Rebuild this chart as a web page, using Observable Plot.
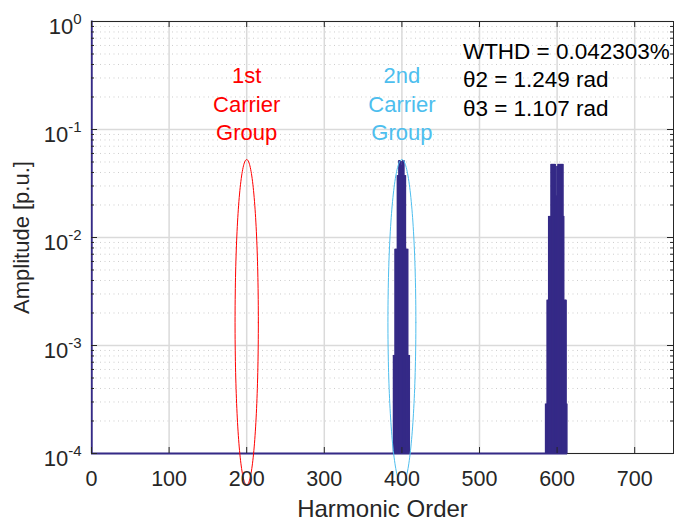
<!DOCTYPE html>
<html><head><meta charset="utf-8">
<script src="https://cdn.jsdelivr.net/npm/d3@7"></script>
<script src="https://cdn.jsdelivr.net/npm/@observablehq/plot@0.6"></script>
<style>body{margin:0;background:#fff;}</style>
</head><body><div id="chart"></div>
<script>
// ---- data ----
const fundamentalHarmonic = [1];
const fundamentalAmp = [1.0];
const group2Harmonics = [390,391,392,393,394,395,396,397,398,399,400,401,402,403,404,405,406,407,408,409,410];
const group2Amps = [8e-4,8e-4,7.7e-3,7.7e-3,7.7e-3,0.037,0.037,0.051,0.051,0.05,0.046,0.05,0.051,0.051,0.037,0.037,7.7e-3,7.7e-3,7.7e-3,8e-4,8e-4];
const group3Harmonics = [586,587,588,589,590,591,592,593,594,595,596,597,598,599,600,601,602,603,604,605,606,607,608,609,610,611,612,613];
const group3Amps = [2.84e-4,2.84e-4,2.6e-3,2.6e-3,0.0155,0.0155,0.0155,0.047,0.047,0.047,0.047,0.047,0.047,0.045,0.024,0.045,0.047,0.047,0.047,0.047,0.047,0.047,0.047,0.0155,2.6e-3,2.6e-3,2.6e-3,2.84e-4];
const xTicks = [0,100,200,300,400,500,600,700];
const yTickExps = [-4,-3,-2,-1,0];
const carrierCenters = [200, 400];
const carrierLabels = ["1st\nCarrier\nGroup", "2nd\nCarrier\nGroup"];
const carrierColors = ["#ff0000", "#4dbeee"];
const ellipseHalfWidths = [15, 18];
const ellipseExpRange = [-4.292, -1.278];
const statsLines = ["WTHD = 0.042303%", "θ2 = 1.249 rad", "θ3 = 1.107 rad"];

// ---- build tables ----
const bars = [
  ...fundamentalHarmonic.map((n,i)=>({n, a: fundamentalAmp[i]})),
  ...group2Harmonics.map((n,i)=>({n, a: group2Amps[i]})),
  ...group3Harmonics.map((n,i)=>({n, a: group3Amps[i]}))
];
const maxHarmonic = d3.max(bars, d => d.n) + 0.5;
const yMajor = yTickExps.map(e => 10 ** e);
const yMinor = yTickExps.slice(0, -1).flatMap(e => d3.range(2, 10).map(m => m * 10 ** e));

const W = 674, H = 523, mL = 91, mR = 1, mT = 21, mB = 70;
const innerW = W - mL - mR, innerH = H - mT - mB;
const navy = "#352a87", axisC = "#262626";

const ellipses = carrierCenters.map((c, k) => {
  const mid = (ellipseExpRange[0] + ellipseExpRange[1]) / 2;
  const half = (ellipseExpRange[1] - ellipseExpRange[0]) / 2;
  return d3.range(0, 361, 2).map(deg => {
    const t = deg * Math.PI / 180;
    return {x: c + ellipseHalfWidths[k] * Math.cos(t), y: 10 ** (mid + half * Math.sin(t))};
  });
});

const chart = Plot.plot({
  width: W, height: H,
  marginLeft: mL, marginRight: mR, marginTop: mT, marginBottom: mB,
  style: {fontFamily: "'Liberation Sans', Arial, sans-serif", fontSize: "21px", color: axisC, background: "#fff"},
  x: {domain: [0, 750], axis: null},
  y: {type: "log", domain: [1e-4, 1], axis: null},
  marks: [
    Plot.gridY(yMinor, {stroke: "#cdcdcd", strokeOpacity: 1, strokeDasharray: "1,3.5", strokeWidth: 1}),
    Plot.gridY(yMajor, {stroke: "#dadada", strokeOpacity: 1, strokeWidth: 1.5}),
    Plot.gridX(xTicks, {stroke: "#dadada", strokeOpacity: 1, strokeWidth: 1.5}),
    Plot.frame({stroke: axisC, strokeWidth: 1}),
    Plot.rect(bars, {x1: d => d.n - 0.5, x2: d => d.n + 0.5, y1: 1e-4, y2: "a", fill: navy, stroke: navy, strokeWidth: 1}),
    Plot.ruleY([1e-4], {x1: 0, x2: maxHarmonic, stroke: navy, strokeWidth: 2}),
    Plot.line(ellipses[0], {x: "x", y: "y", stroke: carrierColors[0], strokeWidth: 1}),
    Plot.line(ellipses[1], {x: "x", y: "y", stroke: carrierColors[1], strokeWidth: 1}),
    Plot.text([carrierLabels[0]], {x: carrierCenters[0], y: 0.0791, text: d => d, fill: carrierColors[0], fontSize: 22, lineAnchor: "bottom", lineHeight: 1.3}),
    Plot.text([carrierLabels[1]], {x: carrierCenters[1], y: 0.0791, text: d => d, fill: carrierColors[1], fontSize: 22, lineAnchor: "bottom", lineHeight: 1.3}),
    Plot.text([statsLines.join("\n")], {x: 478.6, y: 0.1328, text: d => d, fill: "#000", fontSize: 22.5, textAnchor: "start", lineAnchor: "bottom", lineHeight: 1.28}),
    // inside ticks
    Plot.tickX(xTicks, {x: d => d, insetTop: innerH - 6, stroke: axisC}),
    Plot.tickX(xTicks, {x: d => d, insetBottom: innerH - 6, stroke: axisC}),
    Plot.tickY(yMajor, {y: d => d, insetRight: innerW - 6, stroke: axisC}),
    Plot.tickY(yMajor, {y: d => d, insetLeft: innerW - 6, stroke: axisC}),
    Plot.tickY(yMinor, {y: d => d, insetRight: innerW - 3, stroke: axisC}),
    Plot.tickY(yMinor, {y: d => d, insetLeft: innerW - 3, stroke: axisC}),
    Plot.axisX({ticks: xTicks, tickSize: 0, tickPadding: 17, tickFormat: d => String(d), label: null, fontSize: 21.5}),
    Plot.axisY({ticks: yMajor, tickSize: 0, tickPadding: 10, tickFormat: () => "10", label: null, fontSize: 22}),
    Plot.text(["Harmonic Order"], {frameAnchor: "bottom", dy: 63, text: d => d, lineAnchor: "bottom", fontSize: 24}),
    Plot.text(["Amplitude [p.u.]"], {frameAnchor: "left", dx: -63, rotate: -90, text: d => d, textAnchor: "middle", lineAnchor: "bottom", fontSize: 22})
  ]
});
document.getElementById("chart").appendChild(chart);

// superscript exponents on y tick labels
const yLabels = chart.querySelectorAll('g[aria-label="y-axis tick label"] text');
yLabels.forEach((t, i) => {
  t.setAttribute("y", "0.55em");
  t.textContent = "10";
  const sup = document.createElementNS("http://www.w3.org/2000/svg", "tspan");
  sup.setAttribute("dy", "-10");
  sup.setAttribute("font-size", "15");
  sup.textContent = String(yTickExps[i]);
  t.appendChild(sup);
});
</script>
</body></html>
